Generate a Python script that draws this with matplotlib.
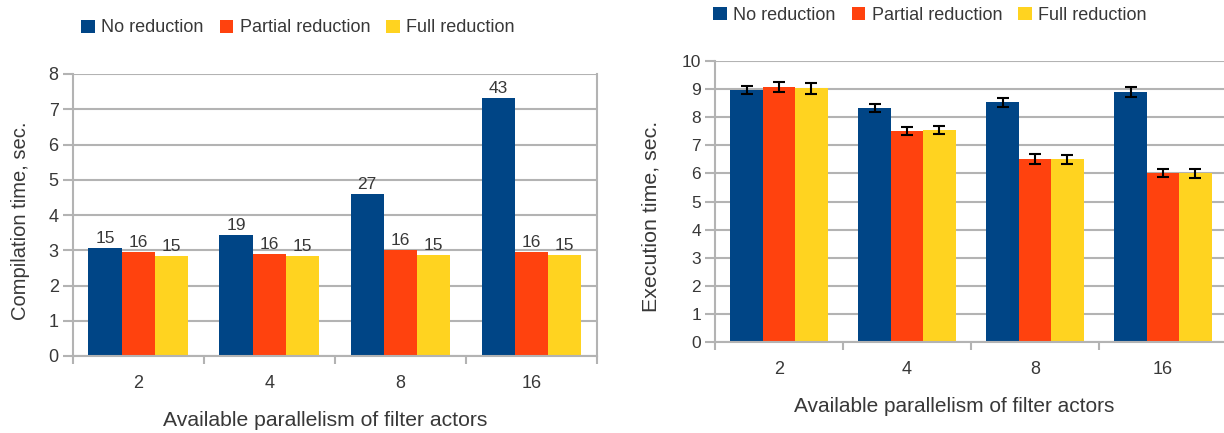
import matplotlib
matplotlib.use("Agg")
import matplotlib.pyplot as plt
import numpy as np

plt.rcParams['font.family'] = ['Liberation Sans', 'DejaVu Sans']

categories = ["2", "4", "8", "16"]
series_names = ["No reduction", "Partial reduction", "Full reduction"]
colors = ["#004586", "#ff420e", "#ffd320"]

# Left: compilation time
comp_no = [3.07, 3.44, 4.60, 7.33]
comp_partial = [2.95, 2.90, 3.01, 2.95]
comp_full = [2.84, 2.84, 2.87, 2.87]
comp_labels_no = ["15", "19", "27", "43"]
comp_labels_partial = ["16", "16", "16", "16"]
comp_labels_full = ["15", "15", "15", "15"]

# Right: execution time
exec_no = [8.97, 8.32, 8.53, 8.90]
exec_partial = [9.06, 7.51, 6.50, 6.01]
exec_full = [9.03, 7.55, 6.50, 6.01]
err_no = [0.15, 0.15, 0.17, 0.19]
err_partial = [0.18, 0.14, 0.18, 0.15]
err_full = [0.19, 0.15, 0.15, 0.16]

W, H = 1224, 433
fig = plt.figure(figsize=(W / 100, H / 100), dpi=100)
txt = "#383838"
grid_c = "#b3b3b3"


def px_axes(x0, x1, ytop, ybot):
    return fig.add_axes([x0 / W, (H - ybot) / H, (x1 - x0) / W, (ybot - ytop) / H])


def style(ax, ymax, ytick_size, right_spine=True):
    n = len(categories)
    ax.set_xlim(-0.5, n - 0.5)
    ax.set_ylim(0, ymax)
    ax.set_yticks(range(0, ymax + 1))
    ax.yaxis.grid(True, color=grid_c, linewidth=1.5)
    ax.set_axisbelow(True)
    for s in ["left", "bottom", "right"]:
        ax.spines[s].set_color(grid_c)
        ax.spines[s].set_linewidth(1.5)
    ax.spines["top"].set_visible(False)
    ax.spines["right"].set_visible(right_spine)
    ax.set_xticks(np.arange(-0.5, n, 1.0))
    ax.set_xticklabels([])
    ax.set_xticks(np.arange(n), minor=True)
    ax.set_xticklabels(categories, minor=True)
    ax.tick_params(axis="x", which="major", length=6, width=1.5, color=grid_c, direction="out")
    ax.tick_params(axis="x", which="minor", length=0, pad=14, labelsize=13, labelcolor=txt)
    ax.tick_params(axis="y", length=7, width=1.5, color=grid_c, direction="out",
                   labelsize=ytick_size, labelcolor=txt, pad=3)


bw = 0.253
x = np.arange(len(categories))
leg_kw = dict(loc="center", ncol=3, frameon=False, fontsize=13, handlelength=0.75,
              handleheight=0.75, handletextpad=0.35, columnspacing=0.9, labelcolor=txt)

# Left chart
ax1 = px_axes(72.6, 597, 74, 356)
style(ax1, 8, 13)
vals1 = [comp_no, comp_partial, comp_full]
labs1 = [comp_labels_no, comp_labels_partial, comp_labels_full]
handles = []
for i, (v, c, lab) in enumerate(zip(vals1, colors, labs1)):
    pos = x + (i - 1) * bw
    b = ax1.bar(pos, v, bw, color=c, label=series_names[i], zorder=2)
    handles.append(b)
    for p, val, t in zip(pos, v, lab):
        ax1.text(p, val + 0.05, t, ha="center", va="bottom", fontsize=12.5, color=txt)
fig.text(21 / W, 1 - 221 / H, "Compilation time, sec.", rotation=90, ha="center", va="center",
         fontsize=14.5, color=txt)
fig.text(325 / W, 1 - 420 / H, "Available parallelism of filter actors", ha="center", va="center",
         fontsize=15.2, color=txt)
fig.legend(handles=handles, labels=series_names, bbox_to_anchor=(298 / W, 1 - 28 / H), **leg_kw)

# Right chart
ax2 = px_axes(715, 1227, 61, 342)
style(ax2, 10, 12.5, right_spine=False)
vals2 = [exec_no, exec_partial, exec_full]
errs2 = [err_no, err_partial, err_full]
handles2 = []
for i, (v, e, c) in enumerate(zip(vals2, errs2, colors)):
    pos = x + (i - 1) * bw
    b = ax2.bar(pos, v, bw, color=c, label=series_names[i], zorder=2)
    handles2.append(b)
    ax2.errorbar(pos, v, yerr=e, fmt="none", ecolor="black", elinewidth=1.5, capsize=4,
                 capthick=1.5, zorder=3)
fig.text(651 / W, 1 - 216 / H, "Execution time, sec.", rotation=90, ha="center", va="center",
         fontsize=15.4, color=txt)
fig.text(954 / W, 1 - 406 / H, "Available parallelism of filter actors", ha="center", va="center",
         fontsize=15, color=txt)
fig.legend(handles=handles2, labels=series_names, bbox_to_anchor=(930 / W, 1 - 15 / H), **leg_kw)

fig.savefig("out.png", dpi=100)
